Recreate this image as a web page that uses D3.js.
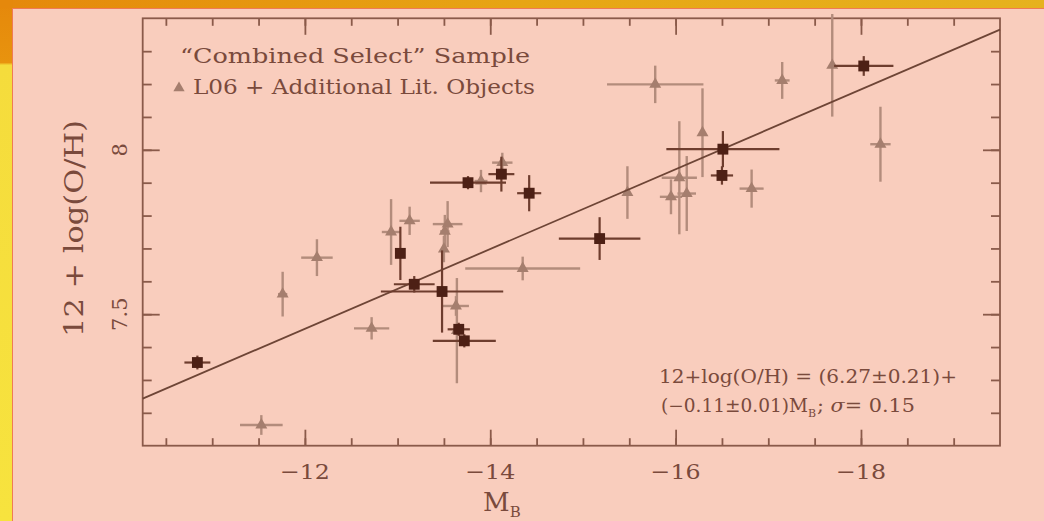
<!DOCTYPE html>
<html><head><meta charset="utf-8">
<script src="https://cdn.jsdelivr.net/npm/d3@7"></script>
<style>body{margin:0;background:#f9cdbd;} svg{display:block}</style>
</head><body><svg id="c" width="1044" height="521"></svg>
<script>
// L06 + Additional Lit. Objects (triangles)
const l06M     = [-11.76,-12.13,-12.93,-13.13,-13.54,-13.51,-13.50,-11.53,-12.72,-13.63,-13.64,-13.90,-14.13,-14.35,-15.48,-15.78,-15.95,-16.04,-16.12,-16.29,-16.82,-17.15,-17.69,-18.21];
const l06OH    = [7.561,7.672,7.750,7.784,7.774,7.752,7.698,7.163,7.457,7.525,7.450,7.905,7.961,7.639,7.870,8.199,7.857,7.915,7.867,8.052,7.882,8.211,8.257,8.017];
const l06ErrM  = [0.05,0.17,0.10,0.11,0.16,0.05,0.00,0.23,0.19,0.14,0.00,0.07,0.11,0.62,0.00,0.52,0.12,0.19,0.10,0.00,0.13,0.08,0.00,0.11];
const l06ErrOH = [0.068,0.056,0.100,0.043,0.070,0.050,0.040,0.030,0.034,0.030,0.160,0.034,0.030,0.036,0.080,0.057,0.053,0.172,0.114,0.135,0.058,0.056,0.156,0.114];
// "Combined Select" sample (squares)
const selM     = [-10.84,-13.03,-13.18,-13.48,-13.66,-13.72,-13.76,-14.12,-14.42,-15.18,-16.51,-16.50,-18.03];
const selOH    = [7.353,7.685,7.591,7.569,7.454,7.419,7.900,7.926,7.868,7.730,8.002,7.922,8.255];
const selErrM  = [0.14,0.00,0.22,0.66,0.12,0.34,0.41,0.14,0.13,0.44,0.61,0.12,0.32];
const selErrOH = [0.021,0.081,0.025,0.125,0.020,0.020,0.020,0.053,0.055,0.065,0.055,0.028,0.030];
// fitted line as drawn
const fitIntercept = 6.0;
const fitSlope = -0.1213;
// ticks
const xMajorTicks = [-12,-14,-16,-18];
const xTickLabels = ["\u221212","\u221214","\u221216","\u221218"];
const yMajorTicks = [7.5, 8];
const yTickLabels = ["7.5","8"];

const svg = d3.select("#c");
const W = 1044, H = 521;

// frame
const defs = svg.append("defs");
const g1 = defs.append("linearGradient").attr("id","topg").attr("x1","0").attr("x2","1").attr("y1","0").attr("y2","0");
g1.append("stop").attr("offset","0").attr("stop-color","#e5880b");
g1.append("stop").attr("offset","0.5").attr("stop-color","#e7a514");
g1.append("stop").attr("offset","1").attr("stop-color","#e6b21e");
const g2 = defs.append("linearGradient").attr("id","leftg").attr("x1","0").attr("x2","0").attr("y1","0").attr("y2","1");
g2.append("stop").attr("offset","0").attr("stop-color","#e5880b");
g2.append("stop").attr("offset","0.12").attr("stop-color","#e8930e");
g2.append("stop").attr("offset","0.125").attr("stop-color","#f5dc3c");
g2.append("stop").attr("offset","1").attr("stop-color","#f7e33e");
svg.append("rect").attr("x",0).attr("y",0).attr("width",W).attr("height",H).attr("fill","#f9cdbd");
svg.append("rect").attr("x",0).attr("y",0).attr("width",W).attr("height",8.5).attr("fill","url(#topg)");
svg.append("rect").attr("x",0).attr("y",0).attr("width",12.5).attr("height",H).attr("fill","url(#leftg)");
svg.append("rect").attr("x",0).attr("y",0).attr("width",12.5).attr("height",8.5).attr("fill","#e5880b");
svg.append("line").attr("x1",12.5).attr("x2",W).attr("y1",8.5).attr("y2",8.5).attr("stroke","#f07a55").attr("stroke-width",1);
svg.append("line").attr("x1",12.5).attr("x2",12.5).attr("y1",8.5).attr("y2",H).attr("stroke","#f07a55").attr("stroke-width",1);

const L = 142.7, R = 1000, T = 18.3, B = 445.7;
const x = d3.scaleLinear().domain([-10.25,-19.5]).range([L,R]);
const y = d3.scaleLinear().domain([7.1,8.4]).range([B,T]);
const axisCol = "#8a5a4a", textCol = "#7a4a3c";

// axes
const xMinor = d3.range(-10.5,-19.01,-0.5);
const yMinor = d3.range(7.2,8.35,0.1).map(v=>+v.toFixed(1));
function styleAxis(g){ g.select(".domain").remove(); g.selectAll("line").attr("stroke",axisCol).attr("stroke-width",1.8); g.selectAll("text").remove(); }
svg.append("g").attr("transform",`translate(0,${B})`).call(d3.axisBottom(x).tickValues(xMinor).tickSize(-7.5)).call(styleAxis);
svg.append("g").attr("transform",`translate(0,${B})`).call(d3.axisBottom(x).tickValues(xMajorTicks).tickSize(-16)).call(styleAxis);
svg.append("g").attr("transform",`translate(0,${T})`).call(d3.axisTop(x).tickValues(xMinor).tickSize(-7.5)).call(styleAxis);
svg.append("g").attr("transform",`translate(0,${T})`).call(d3.axisTop(x).tickValues(xMajorTicks).tickSize(-16.5)).call(styleAxis);
svg.append("g").attr("transform",`translate(${L},0)`).call(d3.axisLeft(y).tickValues(yMinor).tickSize(-9)).call(styleAxis);
svg.append("g").attr("transform",`translate(${L},0)`).call(d3.axisLeft(y).tickValues(yMajorTicks).tickSize(-17)).call(styleAxis);
svg.append("g").attr("transform",`translate(${R},0)`).call(d3.axisRight(y).tickValues(yMinor).tickSize(-9)).call(styleAxis);
svg.append("g").attr("transform",`translate(${R},0)`).call(d3.axisRight(y).tickValues(yMajorTicks).tickSize(-17)).call(styleAxis);
svg.append("rect").attr("x",L).attr("y",T).attr("width",R-L).attr("height",B-T).attr("fill","none").attr("stroke",axisCol).attr("stroke-width",1.8);

const font = "'DejaVu Serif', serif";
// tick labels
svg.append("g").selectAll("text").data(xMajorTicks).join("text")
  .attr("x",d=>x(d)).attr("y",479).attr("text-anchor","middle")
  .attr("font-family",font).attr("font-size",21).attr("fill",textCol)
  .attr("textLength",50).attr("lengthAdjust","spacingAndGlyphs")
  .text((d,i)=>xTickLabels[i]);
svg.append("g").selectAll("text").data(yMajorTicks).join("text")
  .attr("transform",d=>`translate(127,${y(d)}) rotate(-90)`).attr("text-anchor","middle")
  .attr("font-family",font).attr("font-size",21).attr("fill",textCol)
  .text((d,i)=>yTickLabels[i]);

// axis titles
svg.append("text").attr("transform","translate(83,228.5) rotate(-90)").attr("text-anchor","middle")
  .attr("font-family",font).attr("font-size",26).attr("fill",textCol)
  .attr("textLength",217).attr("lengthAdjust","spacingAndGlyphs").text("12 + log(O/H)");
const xt = svg.append("text").attr("x",483).attr("y",511).attr("font-family",font).attr("font-size",26).attr("fill",textCol);
xt.append("tspan").text("M");
xt.append("tspan").attr("font-size",15).attr("dy",6).text("B");

// data clip
const plot = svg.append("g");
const l06 = l06M.map((m,i)=>({m, v:l06OH[i], em:l06ErrM[i], ev:l06ErrOH[i]}));
const sel = selM.map((m,i)=>({m, v:selOH[i], em:selErrM[i], ev:selErrOH[i]}));

const triCol = "#a57e6e", triBar = "#b38c7c";
const sqCol = "#4d2015", sqBar = "#6e3d2e";

function bars(data,col,w){
  const g = plot.append("g").attr("stroke",col).attr("stroke-width",w);
  g.selectAll(".h").data(data.filter(d=>d.em>0)).join("line")
    .attr("x1",d=>x(d.m-d.em)).attr("x2",d=>x(d.m+d.em)).attr("y1",d=>y(d.v)).attr("y2",d=>y(d.v));
  g.selectAll(".v").data(data.filter(d=>d.ev>0)).join("line").attr("class","v")
    .attr("x1",d=>x(d.m)).attr("x2",d=>x(d.m)).attr("y1",d=>y(d.v-d.ev)).attr("y2",d=>y(d.v+d.ev));
}
bars(l06, triBar, 2.4);
plot.append("g").selectAll("path").data(l06).join("path")
  .attr("transform",d=>`translate(${x(d.m)},${y(d.v)})`)
  .attr("d",d3.symbol(d3.symbolTriangle,62)).attr("fill",triCol);

// fit line
const xEnds = x.domain();
plot.append("line").attr("x1",x(xEnds[0])).attr("x2",x(xEnds[1]))
  .attr("y1",y(fitIntercept+fitSlope*xEnds[0])).attr("y2",y(fitIntercept+fitSlope*xEnds[1]))
  .attr("stroke","#6e4536").attr("stroke-width",1.8);

bars(sel, sqBar, 2.2);
plot.append("g").selectAll("path").data(sel).join("path")
  .attr("transform",d=>`translate(${x(d.m)},${y(d.v)})`)
  .attr("d",d3.symbol(d3.symbolSquare,118)).attr("fill",sqCol);

// legend
svg.append("text").attr("x",180).attr("y",63).attr("font-family",font).attr("font-size",21).attr("fill",textCol)
  .attr("textLength",350).attr("lengthAdjust","spacingAndGlyphs").text("\u201CCombined Select\u201D Sample");
svg.append("path").attr("transform","translate(179,88)").attr("d",d3.symbol(d3.symbolTriangle,55)).attr("fill",triCol);
svg.append("text").attr("x",193).attr("y",94).attr("font-family",font).attr("font-size",20).attr("fill",textCol)
  .attr("textLength",342).attr("lengthAdjust","spacingAndGlyphs").text("L06 + Additional Lit. Objects");

// equation
svg.append("text").attr("x",659).attr("y",383).attr("font-family",font).attr("font-size",18).attr("fill",textCol)
  .attr("textLength",298).attr("lengthAdjust","spacingAndGlyphs").text("12+log(O/H) = (6.27\u00B10.21)+");
svg.append("text").attr("x",661).attr("y",412).attr("font-family",font).attr("font-size",18).attr("fill",textCol)
  .attr("textLength",147).attr("lengthAdjust","spacingAndGlyphs").text("(\u22120.11\u00B10.01)M");
svg.append("text").attr("x",808).attr("y",417).attr("font-family",font).attr("font-size",11).attr("fill",textCol).text("B");
const t3 = svg.append("text").attr("x",817).attr("y",412).attr("font-family",font).attr("font-size",18).attr("fill",textCol)
  .attr("textLength",98).attr("lengthAdjust","spacingAndGlyphs");
t3.append("tspan").text("; ");
t3.append("tspan").attr("font-style","italic").text("\u03C3");
t3.append("tspan").text("= 0.15");
</script></body></html>
